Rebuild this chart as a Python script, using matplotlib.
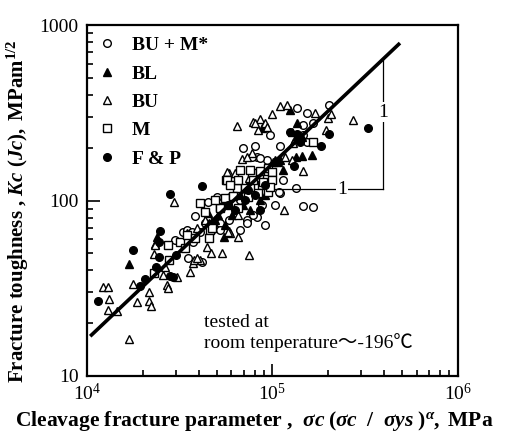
import numpy as np
import matplotlib
matplotlib.use("Agg")
import matplotlib.pyplot as plt
from matplotlib.ticker import FixedLocator, FixedFormatter, LogLocator, NullFormatter

plt.rcParams["font.family"] = ["Liberation Serif", "Noto Sans CJK JP"]
plt.rcParams["mathtext.fontset"] = "custom"
plt.rcParams["mathtext.rm"] = "Liberation Serif"
plt.rcParams["mathtext.it"] = "Liberation Serif:italic"
plt.rcParams["mathtext.bf"] = "Liberation Serif:bold"
plt.rcParams["mathtext.bfit"] = "Liberation Serif:italic:bold"

# cleavage fracture parameter (MPa) and Kc (MPa m^1/2)
bum_x = [8.05e4, 1.10e5, 8.25e4, 1.10e5, 5.02e4, 5.90e4, 3.82e4, 7.29e4, 8.25e4, 4.49e4,
         3.29e4, 3.73e4, 5.08e4, 3.50e4, 4.17e4, 3.46e4, 4.33e4, 4.78e4, 5.21e4, 7.29e4,
         3.68e4, 4.06e4, 5.21e4, 5.83e4, 4.49e4, 1.36e5, 1.53e5, 2.02e5, 1.46e5, 1.65e5,
         9.70e4, 1.46e5, 1.53e5, 9.33e4, 1.34e5, 1.08e5, 1.46e5, 1.65e5, 7.85e4, 7.75e4,
         8.57e4, 6.68e4, 8.77e4, 1.03e5, 2.98e4, 6.68e4, 9.12e4, 1.14e5, 6.93e4]
bum_y = [204, 204, 177, 110, 105, 105, 81.6, 77.4, 80.5, 77.4,
         66.2, 58.0, 75.4, 47.0, 44.6, 67.9, 74.4, 68.8, 74.4, 74.4,
         66.2, 66.2, 67.9, 77.4, 98.1, 336, 315, 350, 269, 276,
         236, 236, 215, 170, 118, 112, 93.0, 91.9, 82.7, 177,
         175, 101, 94.2, 94.2, 59.5, 67.9, 72.4, 131, 199]

bl_x = [1.68e4, 2.38e4, 2.33e4, 4.49e4, 5.48e4, 1.24e5, 8.77e4, 1.36e5, 1.32e5, 1.44e5,
        1.34e5, 1.44e5, 1.63e5, 1.10e5, 1.01e5, 1.07e5, 6.68e4, 7.57e4, 5.90e4, 9.70e4,
        4.90e4, 8.57e4, 1.14e5, 6.93e4, 7.57e4, 9.12e4, 6.05e4, 5.55e4, 5.08e4, 9.70e4,
        1.03e5]
bl_y = [43.5, 61.9, 56.5, 84.9, 61.9, 328, 259, 276, 224, 230,
        177, 179, 182, 170, 166, 166, 107, 122, 94.2, 140,
        77.4, 101, 149, 94.2, 88.2, 107, 82.7, 72.4, 82.7, 153,
        170]

bu_x = [1.22e4, 1.30e4, 1.31e4, 1.30e4, 1.45e4, 1.68e4, 1.77e4, 1.86e4, 2.16e4, 2.16e4,
        2.21e4, 2.30e4, 2.70e4, 3.05e4, 2.63e4, 2.57e4, 3.73e4, 4.06e4, 3.59e4, 4.44e4,
        4.66e4, 5.34e4, 2.73e4, 2.94e4, 3.46e4, 3.92e4, 5.83e4, 4.33e4, 4.55e4, 3.77e4,
        6.85e4, 7.75e4, 5.83e4, 6.28e4, 7.47e4, 1.15e5, 6.52e4, 5.90e4, 6.52e4, 6.44e4,
        9.94e4, 1.10e5, 1.20e5, 7.85e4, 8.57e4, 9.12e4, 8.36e4, 9.33e4, 1.29e5, 1.69e5,
        1.99e5, 2.07e5, 2.72e5, 1.94e5, 1.27e5, 1.27e5, 1.17e5, 1.46e5, 5.68e4, 2.33e4,
        5.76e4, 7.47e4, 3.92e4, 7.29e4, 8.05e4]
bu_y = [32.1, 32.1, 27.5, 23.8, 23.4, 16.3, 33.4, 26.4, 30.1, 26.8,
        25.1, 49.5, 33.0, 36.6, 41.8, 37.6, 44.1, 45.8, 39.1, 54.3,
        50.2, 50.2, 31.7, 98.1, 65.3, 69.7, 67.0, 77.4, 74.4, 45.8,
        172, 187, 143, 143, 134, 88.2, 82.7, 65.3, 61.9, 266,
        311, 346, 350, 280, 291, 276, 252, 262, 213, 315,
        295, 311, 288, 252, 245, 170, 177, 147, 145, 55.8,
        66.2, 48.9, 47.0, 177, 276]

m_x = [2.30e4, 2.73e4, 2.77e4, 3.17e4, 3.46e4, 3.82e4, 4.60e4, 4.06e4, 5.21e4, 5.61e4,
       7.75e4, 8.57e4, 9.46e4, 9.33e4, 7.57e4, 8.77e4, 8.36e4, 7.38e4, 9.46e4, 6.44e4,
       5.68e4, 5.21e4, 4.72e4, 5.55e4, 6.52e4, 1.65e5, 9.94e4, 9.94e4, 9.70e4, 8.89e4,
       6.52e4, 7.85e4, 7.11e4, 7.57e4, 4.55e4, 6.12e4, 4.33e4, 4.90e4, 6.68e4, 5.90e4,
       3.37e4]
m_y = [38.6, 55.8, 45.8, 58.0, 63.6, 61.1, 67.9, 96.8, 91.9, 131,
       143, 147, 153, 133, 119, 122, 110, 105, 112, 118,
       131, 90.6, 69.7, 103, 90.6, 215, 145, 131, 119, 127,
       131, 131, 118, 149, 61.1, 106, 86.0, 101, 149, 122,
       53.6]

fp_x = [1.15e4, 1.77e4, 1.93e4, 2.05e4, 2.36e4, 2.44e4, 2.44e4, 2.80e4, 2.91e4, 3.02e4,
        2.48e4, 2.80e4, 4.17e4, 3.27e5, 2.02e5, 1.83e5, 1.31e5, 1.36e5, 1.41e5, 1.24e5,
        7.11e4, 8.05e4, 6.28e4, 9.12e4, 7.38e4, 8.57e4, 5.76e4]
fp_y = [26.8, 52.2, 32.6, 35.7, 41.8, 47.6, 58.0, 37.2, 36.6, 48.9,
        67.0, 109, 121, 259, 239, 204, 157, 239, 215, 245,
        101, 107, 88.2, 122, 115, 88.2, 94.2]

# fitted line Kc = k * sigma (slope 1 on log-log)
line_k = 1.62e-3
line_x = [1.04e4, 4.87e5]

# slope triangle
tri_x0, tri_x1 = 1.03e5, 3.94e5
tri_y0 = 116

fig = plt.figure(figsize=(5.06, 4.41), dpi=100)
ax = fig.add_axes([0.172, 0.1474, 0.733, 0.7959])

mk = dict(ls="none", ms=5.5, mec="black", mew=1.0)
ax.plot(bum_x, bum_y, marker="o", mfc="white", label="BU + M*", **mk)
ax.plot(bl_x, bl_y, marker="^", mfc="black", label="BL", **mk)
ax.plot(bu_x, bu_y, marker="^", mfc="white", label="BU", **mk)
ax.plot(m_x, m_y, marker="s", mfc="white", label="M", **mk)
ax.plot(fp_x, fp_y, marker="o", mfc="black", label="F & P", **mk)

lx = np.array(line_x)
ax.plot(lx, line_k * lx, color="black", lw=2.6, solid_capstyle="butt")

ax.plot([tri_x0, tri_x1], [tri_y0, tri_y0], color="black", lw=0.9)
ax.plot([tri_x1, tri_x1], [tri_y0, line_k * tri_x1], color="black", lw=0.9)
ax.text(2.37e5, tri_y0, "1", fontsize=14, ha="center", va="center",
        bbox=dict(fc="white", ec="none", pad=1))
ax.text(tri_x1, 319, "1", fontsize=14, ha="center", va="center",
        bbox=dict(fc="white", ec="none", pad=1))

ax.text(4.27e4, 17.6, "tested at\nroom tenperature～-196℃", fontsize=14,
        ha="left", va="center", linespacing=1.1)

ax.set_xscale("log")
ax.set_yscale("log")
ax.set_xlim(1e4, 1e6)
ax.set_ylim(10, 1000)

ax.yaxis.set_major_locator(FixedLocator([10, 100, 1000]))
ax.yaxis.set_major_formatter(FixedFormatter(["10", "100", "1000"]))
ax.yaxis.set_minor_locator(LogLocator(subs=np.arange(2, 10)))
ax.yaxis.set_minor_formatter(NullFormatter())
ax.xaxis.set_minor_locator(LogLocator(subs=np.arange(2, 10)))
ax.xaxis.set_minor_formatter(NullFormatter())

ax.tick_params(which="both", direction="in", top=False, right=False, width=1.2,
               labelsize=14)
ax.tick_params(which="major", length=9)
ax.tick_params(which="minor", length=4.5)
ax.tick_params(axis="y", pad=6)
ax.tick_params(axis="x", pad=5)
for s in ax.spines.values():
    s.set_linewidth(1.6)

ax.set_ylabel(r"Fracture toughness , $\mathbfit{Kc}\ \mathbf{(}\mathbfit{Jc}\mathbf{),\ MPam}^{\mathbf{1/2}}$",
              fontsize=15, fontweight="bold")
ax.yaxis.set_label_coords(-0.152, 0.47)
ax.set_xlabel(r"Cleavage fracture parameter ,  $\mathbfit{\sigma c}\;\mathbf{(}\mathbfit{\sigma c}\ \ \mathbf{/}\ \ "
              r"\mathbfit{\sigma ys}\ \mathbf{)}^{\mathbfit{\alpha}}\mathbf{,\ MPa}$",
              fontsize=15.5, fontweight="bold")
ax.xaxis.set_label_coords(0.45, -0.093)

ax.legend(loc="upper left", bbox_to_anchor=(0.0, 1.0), frameon=False,
          prop=dict(size=14, weight="bold"), handlelength=0.9, handletextpad=0.8,
          labelspacing=0.55, borderaxespad=0.2, borderpad=0.4)

fig.savefig("out.png", dpi=100)
